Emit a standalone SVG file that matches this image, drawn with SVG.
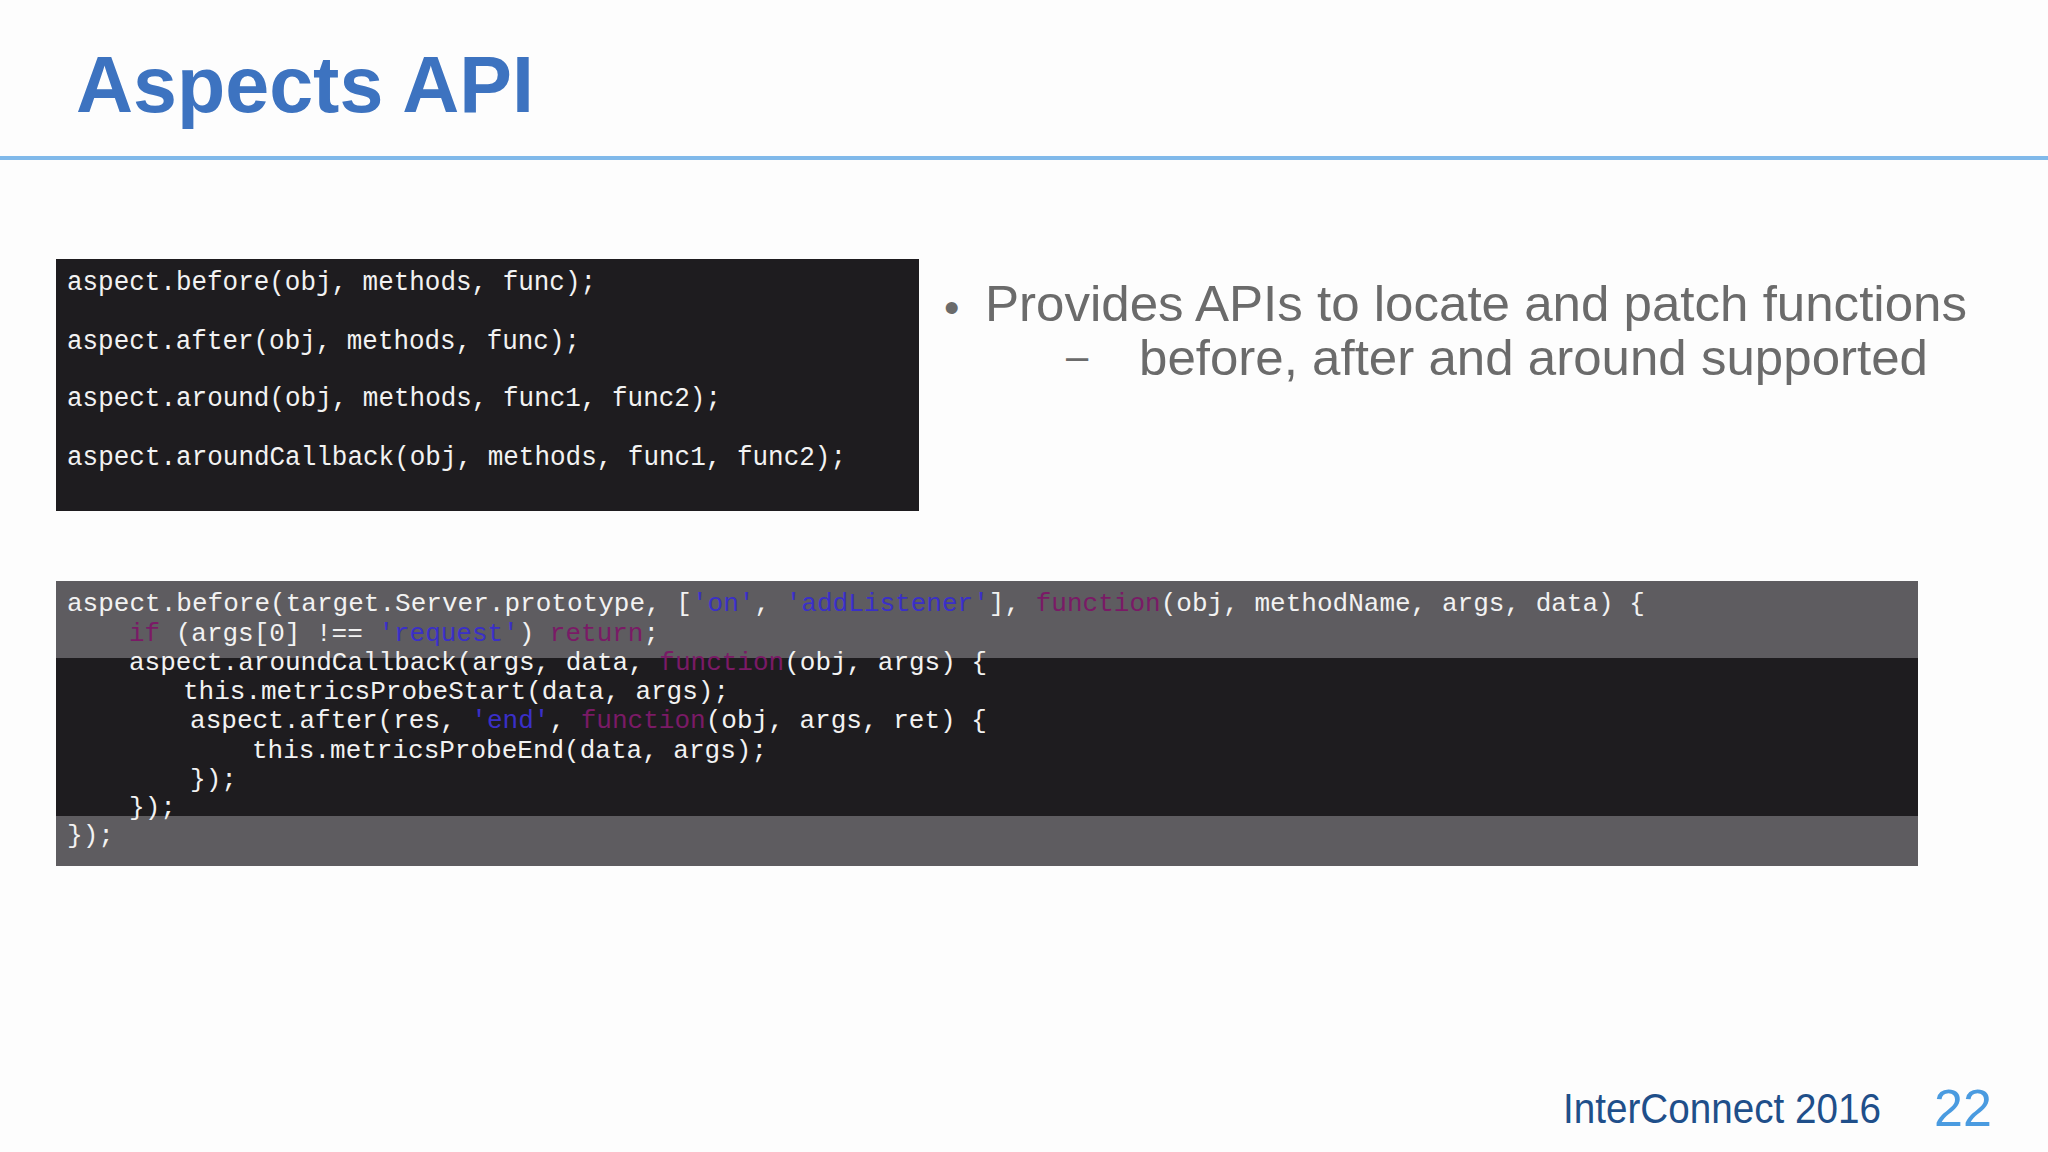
<svg xmlns="http://www.w3.org/2000/svg" width="2048" height="1152" viewBox="0 0 2048 1152">
<style>
.code{font-family:"Liberation Mono",monospace;font-size:27px;fill:#f2f2f2}
.code2{font-family:"Liberation Mono",monospace;font-size:25px;fill:#f2f2f2}
.s{fill:#3a2fc8}.k{fill:#7a1a66}
.body{font-family:"Liberation Sans",Arial,sans-serif;fill:#6b6b6b}
</style>
<rect width="2048" height="1152" fill="#fdfdfd"/>
<g id="title"><text x="76" y="112" font-family="Liberation Sans,Arial,sans-serif" font-weight="bold" font-size="80" fill="#3d73c0" textLength="458" lengthAdjust="spacingAndGlyphs">Aspects API</text>
<rect x="0" y="156" width="2048" height="4" fill="#80b9ea"/></g>
<g id="api-box">
<rect x="56" y="259" width="863" height="252" fill="#1e1c1f"/>
<text class="code" x="67" y="290" textLength="529" lengthAdjust="spacingAndGlyphs">aspect.before(obj, methods, func);</text>
<text class="code" x="67" y="349" textLength="513" lengthAdjust="spacingAndGlyphs">aspect.after(obj, methods, func);</text>
<text class="code" x="67" y="406" textLength="654" lengthAdjust="spacingAndGlyphs">aspect.around(obj, methods, func1, func2);</text>
<text class="code" x="67" y="465" textLength="779" lengthAdjust="spacingAndGlyphs">aspect.aroundCallback(obj, methods, func1, func2);</text>
</g>
<g id="bullets">
<text class="body" x="944" y="323" font-size="44">•</text>
<text class="body" x="985" y="321" font-size="50" textLength="982" lengthAdjust="spacingAndGlyphs">Provides APIs to locate and patch functions</text>
<text class="body" x="1066" y="370" font-size="40">–</text>
<text class="body" x="1139" y="375" font-size="50" textLength="789" lengthAdjust="spacingAndGlyphs">before, after and around supported</text>
</g>
<g id="code-box">
<rect x="56" y="581" width="1862" height="285" fill="#5e5c60"/>
<rect x="56" y="658" width="1862" height="158" fill="#1e1c1f"/>
<text class="code2" x="67" y="611" textLength="1578" lengthAdjust="spacingAndGlyphs">aspect.before(target.Server.prototype, [<tspan class="s">'on'</tspan>, <tspan class="s">'addListener'</tspan>], <tspan class="k">function</tspan>(obj, methodName, args, data) {</text>
<text class="code2" x="129" y="641" textLength="530" lengthAdjust="spacingAndGlyphs"><tspan class="k">if</tspan> (args[0] !== <tspan class="s">'request'</tspan>) <tspan class="k">return</tspan>;</text>
<text class="code2" x="129" y="670" textLength="858" lengthAdjust="spacingAndGlyphs">aspect.aroundCallback(args, data, <tspan class="k">function</tspan>(obj, args) {</text>
<text class="code2" x="183" y="699" textLength="546" lengthAdjust="spacingAndGlyphs">this.metricsProbeStart(data, args);</text>
<text class="code2" x="190" y="728" textLength="797" lengthAdjust="spacingAndGlyphs">aspect.after(res, <tspan class="s">'end'</tspan>, <tspan class="k">function</tspan>(obj, args, ret) {</text>
<text class="code2" x="252" y="758" textLength="515" lengthAdjust="spacingAndGlyphs">this.metricsProbeEnd(data, args);</text>
<text class="code2" x="190" y="787" textLength="47" lengthAdjust="spacingAndGlyphs">});</text>
<text class="code2" x="129" y="815" textLength="47" lengthAdjust="spacingAndGlyphs">});</text>
<text class="code2" x="67" y="843" textLength="47" lengthAdjust="spacingAndGlyphs">});</text>
</g>
<g id="footer">
<text x="1563" y="1123" font-family="Liberation Sans,Arial,sans-serif" font-size="42" fill="#1f4f8a" textLength="318" lengthAdjust="spacingAndGlyphs">InterConnect 2016</text>
<text x="1934" y="1126" font-family="Liberation Sans,Arial,sans-serif" font-size="52" fill="#4a9be0">22</text>
</g>
</svg>
